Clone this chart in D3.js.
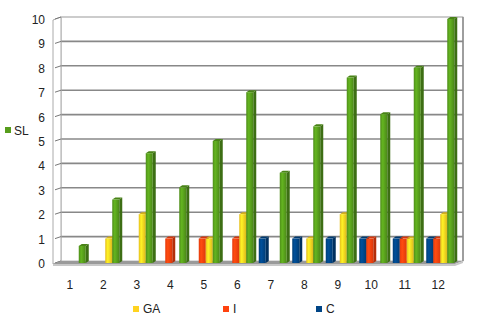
<!DOCTYPE html>
<html>
<head>
<meta charset="utf-8">
<script src="https://cdn.jsdelivr.net/npm/d3@7/dist/d3.min.js"></script>
<style>
  body { margin: 0; background: #fff; }
  svg { display: block; font-family: "Liberation Sans", Arial, sans-serif; }
</style>
</head>
<body>
<div id="chart"></div>
<script>
const width = 480;
const height = 320;

// Data
const categories = ['1', '2', '3', '4', '5', '6', '7', '8', '9', '10', '11', '12'];
const seriesNames = ['C', 'I', 'GA', 'SL'];
const valuesC  = [0, 0, 0, 0, 0, 0, 1, 1, 1, 1, 1, 1];
const valuesI  = [0, 0, 0, 1, 1, 1, 0, 0, 0, 1, 1, 1];
const valuesGA = [0, 1, 2, 0, 1, 2, 0, 1, 2, 0, 1, 2];
const valuesSL = [0.7, 2.6, 4.5, 3.1, 5, 7, 3.7, 5.6, 7.6, 6.1, 8, 10];
const yTicks = [0, 1, 2, 3, 4, 5, 6, 7, 8, 9, 10];

const seriesValues = { C: valuesC, I: valuesI, GA: valuesGA, SL: valuesSL };
const colors = { C: '#004586', I: '#ff420e', GA: '#ffd320', SL: '#579d1c' };

// depth offset of the 3d box
const depthX = 8;
const depthY = -3;

const svg = d3.select('#chart')
  .append('svg')
  .attr('width', width)
  .attr('height', height);

const x = d3.scaleBand()
  .domain(categories)
  .range([53, 455]);

const y = d3.scaleLinear()
  .domain([0, 10])
  .range([264, 20]);

// bars inside a category
const xInner = d3.scaleBand()
  .domain(seriesNames)
  .range([-12, 16]);

// gradients for bar faces
const defs = svg.append('defs');
seriesNames.forEach(s => {
  const c = d3.color(colors[s]);
  const g = defs.append('linearGradient')
    .attr('id', 'grad-' + s)
    .attr('x1', '0%').attr('x2', '100%')
    .attr('y1', '0%').attr('y2', '0%');
  g.append('stop').attr('offset', '0%').attr('stop-color', c.darker(0.3));
  g.append('stop').attr('offset', '35%').attr('stop-color', c.brighter(0.4));
  g.append('stop').attr('offset', '100%').attr('stop-color', c.darker(0.4));
});

const x0 = x.range()[0];
const x1 = x.range()[1];

// back wall
svg.append('rect')
  .attr('x', x0 + depthX)
  .attr('y', y(10) + depthY)
  .attr('width', x1 - x0)
  .attr('height', y(0) - y(10))
  .attr('fill', '#fff')
  .attr('stroke', '#bbb')
  .attr('stroke-width', 1);

// gridlines on the back wall
svg.append('g')
  .selectAll('line')
  .data(yTicks.filter(d => d > 0))
  .enter()
  .append('line')
  .attr('x1', x0 + depthX)
  .attr('x2', x1 + depthX)
  .attr('y1', d => y(d) + depthY)
  .attr('y2', d => y(d) + depthY)
  .attr('stroke', d => d === 10 ? '#bbb' : '#888')
  .attr('stroke-width', d => d === 10 ? 1 : 1.6);

// right edge of back wall
svg.append('line')
  .attr('x1', x1 + depthX).attr('x2', x1 + depthX)
  .attr('y1', y(10) + depthY).attr('y2', y(0) + depthY)
  .attr('stroke', '#888').attr('stroke-width', 1.5);

// left wall
svg.append('path')
  .attr('d', `M${x0},${y(0)} L${x0},${y(10)} L${x0 + depthX},${y(10) + depthY} L${x0 + depthX},${y(0) + depthY} Z`)
  .attr('fill', '#fff')
  .attr('stroke', '#aaa')
  .attr('stroke-width', 1);

// slanted ticks on the left wall
svg.append('g')
  .selectAll('line')
  .data(yTicks)
  .enter()
  .append('line')
  .attr('x1', x0 + 2)
  .attr('x2', x0 + depthX)
  .attr('y1', d => y(d) - 1)
  .attr('y2', d => y(d) + depthY)
  .attr('stroke', '#777')
  .attr('stroke-width', 1);

// floor
svg.append('path')
  .attr('d', `M${x0},${y(0)} L${x1},${y(0)} L${x1 + depthX},${y(0) + depthY} L${x0 + depthX},${y(0) + depthY} Z`)
  .attr('fill', '#9a9a9a');
svg.append('path')
  .attr('d', `M${x0},${y(0)} L${x1},${y(0)} L${x1 + depthX},${y(0) + depthY} L${x1 + depthX},${y(0) + depthY + 2} L${x1},${y(0) + 2} L${x0},${y(0) + 2} Z`)
  .attr('fill', '#c8c8c8');

// y tick labels
svg.append('g')
  .selectAll('text')
  .data(yTicks)
  .enter()
  .append('text')
  .attr('x', 45)
  .attr('y', d => y(d) + 4)
  .attr('text-anchor', 'end')
  .attr('font-size', 12)
  .attr('fill', '#222')
  .text(d => d);

// x labels
svg.append('g')
  .selectAll('text')
  .data(categories)
  .enter()
  .append('text')
  .attr('x', d => x(d) + x.bandwidth() / 2)
  .attr('y', 289)
  .attr('text-anchor', 'middle')
  .attr('font-size', 12)
  .attr('fill', '#222')
  .text(d => d);

// bars as little 3d boxes
const barData = [];
categories.forEach((cat, i) => {
  seriesNames.forEach(s => {
    const v = seriesValues[s][i];
    if (v > 0) barData.push({ cat, s, v });
  });
});

const bw = xInner.bandwidth();
const sideX = 3;
const sideY = -2;

const bars = svg.append('g')
  .selectAll('g')
  .data(barData)
  .enter()
  .append('g')
  .attr('transform', d => `translate(${x(d.cat) + x.bandwidth() / 2 + xInner(d.s)},0)`);

// side face
bars.append('path')
  .attr('d', d => {
    const top = y(d.v) - 1;
    const bot = y(0) - 1;
    return `M${bw},${bot} L${bw},${top} L${bw + sideX},${top + sideY} L${bw + sideX},${bot + sideY} Z`;
  })
  .attr('fill', d => d3.color(colors[d.s]).darker(1));

// top face
bars.append('path')
  .attr('d', d => {
    const top = y(d.v) - 1;
    return `M0,${top} L${bw},${top} L${bw + sideX},${top + sideY} L${sideX},${top + sideY} Z`;
  })
  .attr('fill', d => d3.color(colors[d.s]).darker(0.5));

// front face
bars.append('rect')
  .attr('x', 0)
  .attr('y', d => y(d.v) - 1)
  .attr('width', bw)
  .attr('height', d => y(0) - y(d.v))
  .attr('fill', d => `url(#grad-${d.s})`);

// Legend: SL on the left
svg.append('rect')
  .attr('x', 5).attr('y', 127)
  .attr('width', 6).attr('height', 6)
  .attr('fill', colors.SL);
svg.append('text')
  .attr('x', 14).attr('y', 135)
  .attr('font-size', 12)
  .attr('fill', '#222')
  .text('SL');

// Legend: bottom row
const legendItems = [
  { s: 'GA', x: 133 },
  { s: 'I', x: 223 },
  { s: 'C', x: 316 }
];
const legend = svg.append('g')
  .selectAll('g')
  .data(legendItems)
  .enter()
  .append('g')
  .attr('transform', d => `translate(${d.x},306)`);
legend.append('rect')
  .attr('width', 6).attr('height', 6)
  .attr('fill', d => colors[d.s]);
legend.append('text')
  .attr('x', 10).attr('y', 7)
  .attr('font-size', 12)
  .attr('fill', '#222')
  .text(d => d.s);
</script>
</body>
</html>
